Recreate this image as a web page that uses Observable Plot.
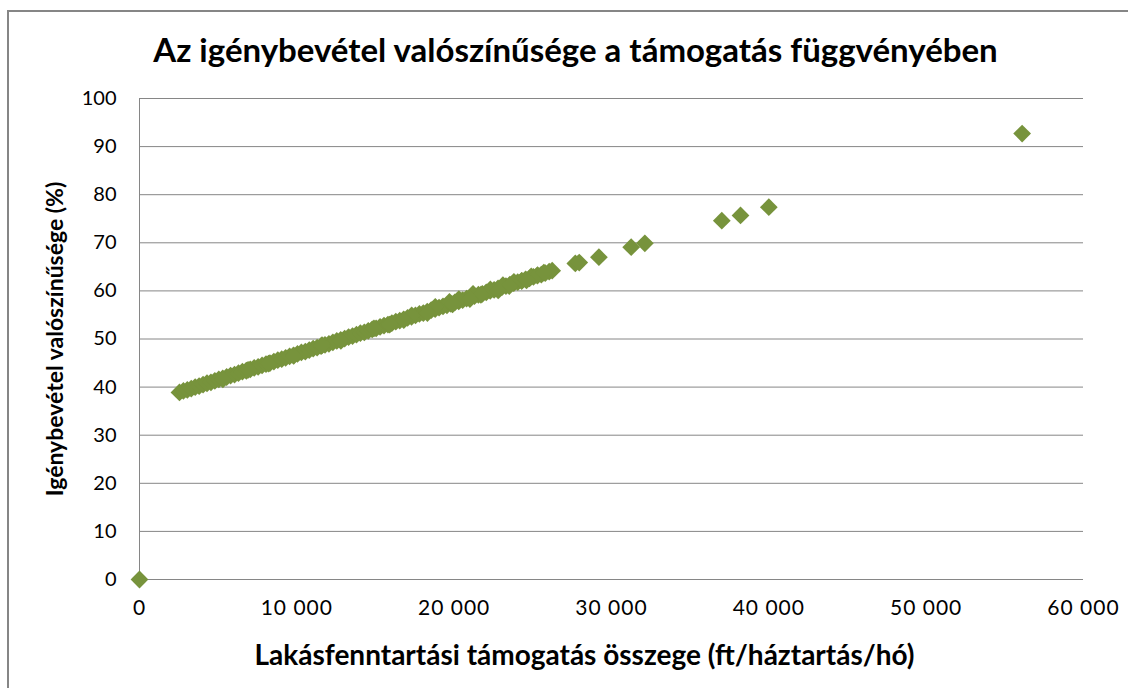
<!DOCTYPE html>
<html>
<head>
<meta charset="utf-8">
<script src="https://cdn.jsdelivr.net/npm/d3@7"></script>
<script src="https://cdn.jsdelivr.net/npm/@observablehq/plot@0.6"></script>
<style>
  html, body { margin: 0; padding: 0; background: #fff; }
  #wrap { position: relative; width: 1128px; height: 688px; overflow: hidden; }
  #border { position: absolute; left: 7px; top: 10px; width: 1140px; height: 700px; border: 2px solid #868686; pointer-events: none; }
</style>
</head>
<body>
<div id="wrap"><div id="border"></div></div>
<script>
// Title and axis titles
const title = "Az igénybevétel valószínűsége a támogatás függvényében";
const xTitle = "Lakásfenntartási támogatás összege (ft/háztartás/hó)";
const yTitle = "Igénybevétel valószínűsége (%)";

// Tick values
const xTicks = [0, 10000, 20000, 30000, 40000, 50000, 60000];
const yTicks = [0, 10, 20, 30, 40, 50, 60, 70, 80, 90, 100];

// Support amount (ft/household/month)
const support = [
  0,
  2540, 2790, 3040, 3290, 3540, 3790, 4040, 4290, 4540, 4790,
  5040, 5290, 5540, 5790, 6040, 6290, 6540, 6790, 7040, 7290,
  7540, 7790, 8040, 8290, 8540, 8790, 9040, 9290, 9540, 9790,
  10040, 10290, 10540, 10790, 11040, 11290, 11540, 11790, 12040, 12290,
  12540, 12790, 13040, 13290, 13540, 13790, 14040, 14290, 14540, 14790,
  15040, 15290, 15540, 15790, 16040, 16290, 16540, 16790, 17040, 17290,
  17540, 17790, 18040, 18290, 18540, 18790, 19040, 19290, 19540, 19790,
  20040, 20290, 20540, 20790, 21040, 21290, 21540, 21790, 22040, 22290,
  22540, 22790, 23040, 23290, 23540, 23790, 24040, 24290, 24540, 24790,
  25040, 25290, 25540, 25790, 26040, 26230,
  8200, 11600, 14900, 17300, 18800, 19700, 20300, 21200, 22300, 23100,
  23800, 24300, 24900, 25300, 25700, 19900, 21700, 23500, 24600,
  5300, 6900, 9800, 12800, 15900, 16800, 18300, 21000, 22800,
  27700, 27950, 29200, 31250, 32120, 37010, 38200, 40000, 56100
];
// Take-up probability (%)
const probability = [
  0,
  38.9, 39.2, 39.4, 39.7, 40.0, 40.2, 40.5, 40.8, 41.0, 41.3,
  41.6, 41.8, 42.1, 42.4, 42.6, 42.9, 43.2, 43.4, 43.7, 44.0,
  44.2, 44.5, 44.8, 45.0, 45.3, 45.6, 45.8, 46.1, 46.4, 46.6,
  46.9, 47.2, 47.4, 47.7, 48.0, 48.2, 48.5, 48.8, 49.0, 49.3,
  49.6, 49.8, 50.1, 50.4, 50.6, 50.9, 51.2, 51.4, 51.7, 52.0,
  52.2, 52.5, 52.8, 53.0, 53.3, 53.6, 53.8, 54.1, 54.4, 54.6,
  54.9, 55.2, 55.4, 55.7, 56.0, 56.2, 56.5, 56.8, 57.0, 57.3,
  57.6, 57.8, 58.1, 58.4, 58.6, 58.9, 59.2, 59.4, 59.7, 60.0,
  60.2, 60.5, 60.8, 61.0, 61.3, 61.6, 61.8, 62.1, 62.4, 62.6,
  62.9, 63.2, 63.4, 63.7, 64.0, 64.2,
  44.9, 48.7, 52.2, 54.9, 56.7, 57.7, 58.3, 59.4, 60.3, 61.2,
  61.9, 62.1, 63.0, 63.3, 63.8, 57.2, 59.2, 61.0, 62.2,
  41.6, 43.6, 46.5, 49.6, 53.0, 53.9, 55.4, 58.3, 60.1,
  65.7, 65.9, 67.0, 69.1, 69.9, 74.6, 75.7, 77.4, 92.7
];

const data = support.map((x, i) => ({x, y: probability[i]}));

const huLocale = d3.formatLocale({decimal: ",", thousands: "\u00a0", grouping: [3], currency: ["", " Ft"]});
const fmt = huLocale.format(",d");

const FONT = "Lato, 'Open Sans', sans-serif";

const chart = Plot.plot({
  width: 1128,
  height: 688,
  marginLeft: 139,
  marginRight: 45,
  marginTop: 98,
  marginBottom: 109,
  style: {fontFamily: FONT, fontSize: "20px", color: "#000", background: "transparent", overflow: "visible"},
  x: {domain: [0, 60000], ticks: xTicks, tickFormat: fmt, tickSize: 0, tickPadding: 22, label: null},
  y: {domain: [0, 100], ticks: yTicks, tickSize: 0, tickPadding: 23, label: null},
  marks: [
    Plot.gridY(yTicks, {stroke: "#868686", strokeOpacity: 1, strokeWidth: 1}),
    Plot.ruleX([0], {y1: 0, y2: 100, stroke: "#868686", strokeWidth: 1}),
    Plot.axisX({ticks: xTicks, tickFormat: fmt, tickSize: 0, tickPadding: 21, label: null, fontSize: 21}),
    Plot.axisY({ticks: yTicks, tickSize: 0, tickPadding: 23, label: null, fontSize: 20}),
    Plot.dot(data, {x: "x", y: "y", symbol: "diamond2", r: 8, fill: "#77933C", stroke: "none"}),
    Plot.text([title], {frameAnchor: "top", textAnchor: "middle", lineAnchor: "bottom", dx: -36, dy: -37, fontSize: 33, fontWeight: "bold", fill: "#000"}),
    Plot.text([xTitle], {frameAnchor: "bottom", textAnchor: "middle", lineAnchor: "bottom", dx: -27, dy: 85, fontSize: 28, fontWeight: "bold", fill: "#000"}),
    Plot.text([yTitle], {frameAnchor: "left", textAnchor: "middle", lineAnchor: "middle", rotate: -90, dx: -84, fontSize: 23, fontWeight: "bold", fill: "#000"})
  ]
});
document.getElementById("wrap").prepend(chart);
// slightly widen the x tick labels as in the reference
chart.querySelectorAll("g[aria-label='x-axis tick label'] text").forEach(t => t.setAttribute("letter-spacing", "1"));
</script>
</body>
</html>
